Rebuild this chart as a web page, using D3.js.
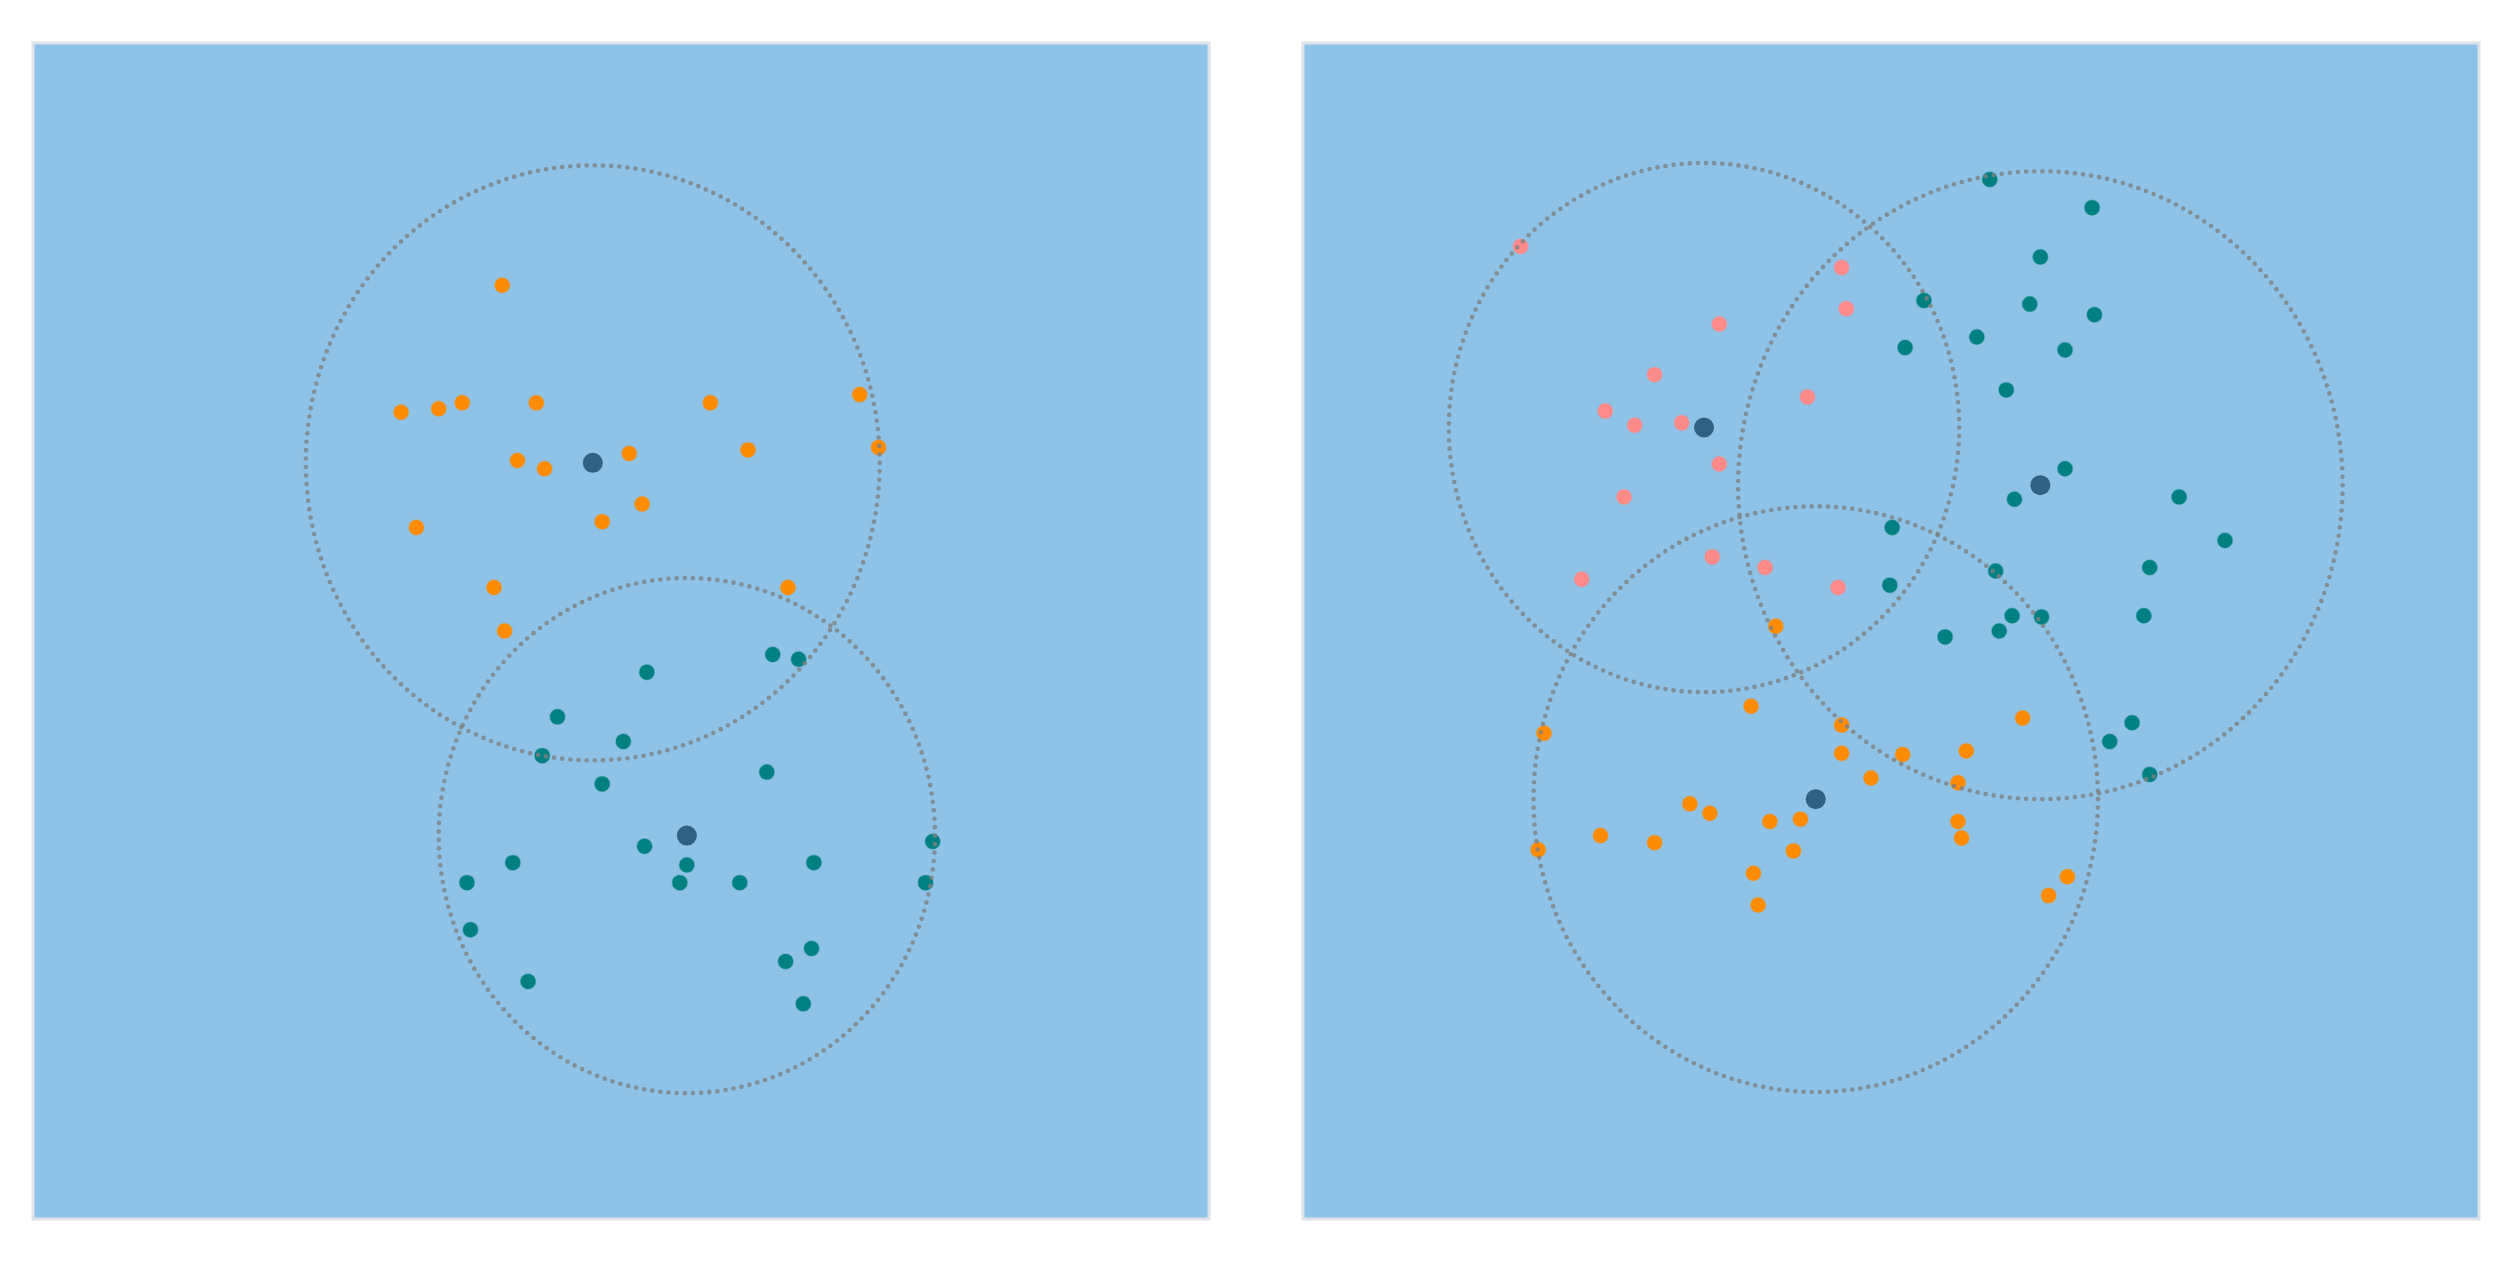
<!DOCTYPE html>
<html>
<head>
<meta charset="utf-8">
<script src="https://cdn.jsdelivr.net/npm/d3@7"></script>
<style>
    html, body { margin: 0; padding: 0; background: #fff; }
    svg { display: block; }
</style>
</head>
<body>
<svg id="chart"></svg>
<script>
// positions are in percent of each panel (x: left -> right, y: top -> bottom)

// left panel, cluster A (orange)
const leftOrangeX = [39.9, 31.3, 34.5, 36.5, 42.8, 57.6, 70.3, 71.9, 41.2, 43.5, 50.7, 60.8, 51.8, 48.4, 32.6, 39.2, 40.1, 64.2];
const leftOrangeY = [20.6, 31.4, 31.1, 30.6, 30.6, 30.6, 29.9, 34.4, 35.5, 36.2, 34.9, 34.6, 39.2, 40.7, 41.2, 46.3, 50.0, 46.3];

// left panel, cluster B (teal)
const leftTealX = [62.9, 65.1, 52.2, 44.6, 50.2, 43.3, 48.4, 62.4, 52.0, 55.6, 55.0, 60.1, 66.4, 40.8, 36.9, 37.2, 76.5, 75.9, 66.2, 64.0, 42.1, 65.5];
const leftTealY = [52.0, 52.4, 53.5, 57.3, 59.4, 60.6, 63.0, 62.0, 68.3, 69.9, 71.4, 71.4, 69.7, 69.7, 71.4, 75.4, 67.9, 71.4, 77.0, 78.1, 79.8, 81.7];

// right panel, cluster A (pink)
const rightPinkX = [18.5, 45.8, 46.2, 35.4, 29.9, 25.7, 28.2, 32.2, 42.9, 35.4, 27.3, 34.8, 39.3, 23.7, 45.5];
const rightPinkY = [17.3, 19.1, 22.6, 23.9, 28.2, 31.3, 32.5, 32.3, 30.1, 35.8, 38.6, 43.7, 44.6, 45.6, 46.3];

// right panel, cluster B (teal)
const rightTealX = [58.4, 67.1, 62.7, 52.8, 61.8, 67.3, 57.3, 51.2, 64.8, 59.8, 64.8, 60.5, 74.5, 78.4, 50.1, 58.9, 72.0, 49.9, 60.3, 62.8, 71.5, 59.2, 54.6, 70.5, 68.6, 72.0];
const rightTealY = [11.6, 14.0, 18.2, 21.9, 22.2, 23.1, 25.0, 25.9, 26.1, 29.5, 36.2, 38.8, 38.6, 42.3, 41.2, 44.9, 44.6, 46.1, 48.7, 48.8, 48.7, 50.0, 50.5, 57.8, 59.4, 62.2];

// right panel, cluster C (orange)
const rightOrangeX = [40.2, 38.1, 20.5, 45.8, 61.2, 45.8, 51.0, 56.4, 48.3, 55.7, 32.9, 34.6, 39.7, 42.3, 55.7, 56.0, 20.0, 25.3, 29.9, 41.7, 38.3, 65.0, 63.4, 38.7];
const rightOrangeY = [49.6, 56.4, 58.7, 58.0, 57.4, 60.4, 60.5, 60.2, 62.5, 62.9, 64.7, 65.5, 66.2, 66.0, 66.2, 67.6, 68.6, 67.4, 68.0, 68.7, 70.6, 70.9, 72.5, 73.3];

// cluster centres and radii (rx, ry in percent of panel width / height)
const leftCentreX = [47.6, 55.6];
const leftCentreY = [35.7, 67.4];
const leftRadiusX = [24.4, 21.1];
const leftRadiusY = [25.3, 21.9];

const rightCentreX = [34.1, 62.7, 43.6];
const rightCentreY = [32.7, 37.6, 64.3];
const rightRadiusX = [21.7, 25.7, 24.0];
const rightRadiusY = [22.5, 26.7, 24.9];

const colors = {
    orange: "#ff8c00",
    teal: "#008080",
    pink: "#ff8a8a",
    centre: "#2e6184",
    ring: "#808080",
    panel: "#8ec3e7",
    border: "#dde3e8"
};

const W = 2517, H = 1262;
const svg = d3.select("#chart").attr("width", W).attr("height", H);

const panelSize = 1176;
const panels = [
    {
        left: 33, top: 43,
        groups: [
            { xs: leftOrangeX, ys: leftOrangeY, color: colors.orange },
            { xs: leftTealX, ys: leftTealY, color: colors.teal }
        ],
        cx: leftCentreX, cy: leftCentreY, rx: leftRadiusX, ry: leftRadiusY
    },
    {
        left: 1303, top: 43,
        groups: [
            { xs: rightPinkX, ys: rightPinkY, color: colors.pink },
            { xs: rightTealX, ys: rightTealY, color: colors.teal },
            { xs: rightOrangeX, ys: rightOrangeY, color: colors.orange }
        ],
        cx: rightCentreX, cy: rightCentreY, rx: rightRadiusX, ry: rightRadiusY
    }
];

panels.forEach(p => {
    const x = d3.scaleLinear().domain([0, 100]).range([p.left, p.left + panelSize]);
    const y = d3.scaleLinear().domain([0, 100]).range([p.top, p.top + panelSize]);

    const g = svg.append("g");

    g.append("rect")
        .attr("x", p.left)
        .attr("y", p.top)
        .attr("width", panelSize)
        .attr("height", panelSize)
        .attr("fill", colors.panel)
        .attr("stroke", colors.border)
        .attr("stroke-width", 3);

    // data points
    p.groups.forEach(grp => {
        g.selectAll(null)
            .data(d3.zip(grp.xs, grp.ys))
            .enter().append("circle")
            .attr("cx", d => x(d[0]))
            .attr("cy", d => y(d[1]))
            .attr("r", 7.5)
            .attr("fill", grp.color)
            .attr("stroke", grp.color)
            .attr("stroke-opacity", 0.35)
            .attr("stroke-width", 1.5);
    });

    // dotted boundary circles
    p.cx.forEach((cx, i) => {
        const rxPx = x(p.rx[i]) - x(0);
        const ryPx = y(p.ry[i]) - y(0);
        const n = Math.round(2 * Math.PI * (rxPx + ryPx) / 2 / 8.3);
        const ring = d3.range(n).map(k => 2 * Math.PI * k / n);
        g.selectAll(null)
            .data(ring)
            .enter().append("circle")
            .attr("cx", a => x(cx) + rxPx * Math.cos(a))
            .attr("cy", a => y(p.cy[i]) + ryPx * Math.sin(a))
            .attr("r", 2.3)
            .attr("fill", colors.ring)
            .attr("fill-opacity", 0.8);
    });

    // centroids
    g.selectAll(null)
        .data(d3.zip(p.cx, p.cy))
        .enter().append("circle")
        .attr("cx", d => x(d[0]))
        .attr("cy", d => y(d[1]))
        .attr("r", 10)
        .attr("fill", colors.centre);
});
</script>
</body>
</html>
